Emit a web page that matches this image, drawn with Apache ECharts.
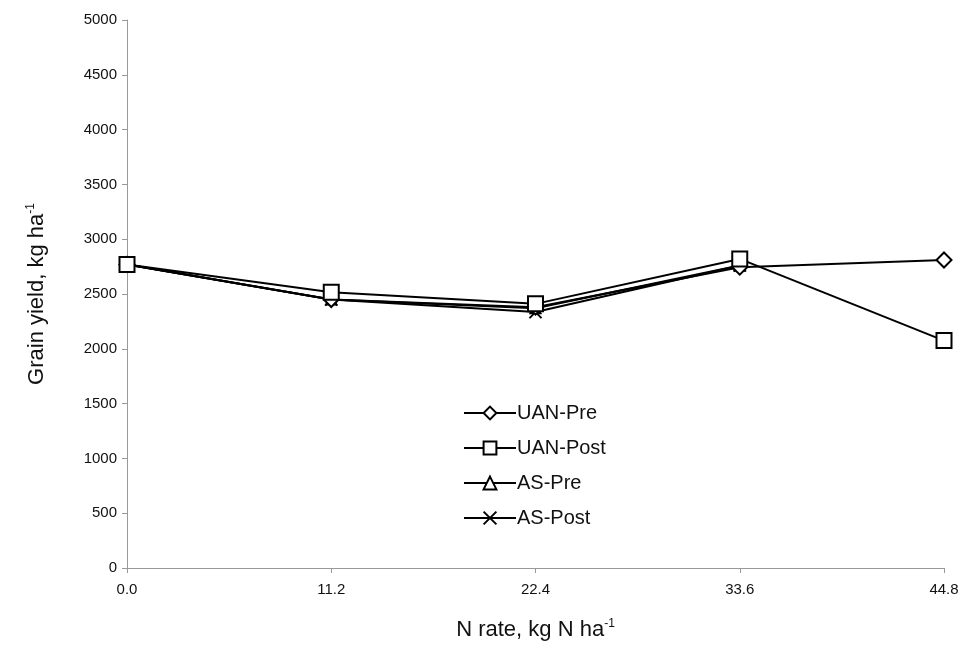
<!DOCTYPE html>
<html>
<head>
<meta charset="utf-8">
<script src="https://cdn.jsdelivr.net/npm/echarts@6/dist/echarts.min.js"></script>
<style>html,body{margin:0;padding:0;background:#fff}#c{width:968px;height:655px}</style>
</head>
<body>
<div id="c"></div>
<script>
const categories = ['0.0', '11.2', '22.4', '33.6', '44.8'];
const uanPre  = [2770, 2450, 2380, 2745, 2810];
const uanPost = [2770, 2515, 2410, 2820, 2075];
const asPre   = [2770, 2450, 2370, 2760, null];
const asPost  = [2770, 2450, 2335, 2760, null];
const yTicks = [0, 500, 1000, 1500, 2000, 2500, 3000, 3500, 4000, 4500, 5000];

const chart = echarts.init(document.getElementById('c'));
const font = 'Liberation Sans, Arial, sans-serif';
function ser(name, data, symbol, size, z) {
  return {
    name, type: 'line', data, symbol, symbolSize: size, z,
    showAllSymbol: true, connectNulls: false,
    lineStyle: { color: '#000', width: 2 },
    itemStyle: { color: '#fff', borderColor: '#000', borderWidth: 2 },
    emphasis: { disabled: true }
  };
}
chart.setOption({
  animation: false,
  backgroundColor: '#fff',
  grid: { left: 127, right: 24, top: 20, bottom: 87 },
  legend: {
    orient: 'vertical', left: 458, top: 398, itemWidth: 52, itemHeight: 16, itemGap: 15,
    textStyle: { fontFamily: font, fontSize: 20, color: '#111', padding: [0,0,0,-4] },
    data: ['UAN-Pre', 'UAN-Post', 'AS-Pre', 'AS-Post']
  },
  xAxis: {
    type: 'category', data: categories, boundaryGap: false,
    name: '{a|N rate, kg N ha}{s|-1}', nameLocation: 'middle', nameGap: 50,
    nameTextStyle: { rich: {
      a: { fontFamily: font, fontSize: 22, color: '#111' },
      s: { fontFamily: font, fontSize: 12, color: '#111', padding: [0,0,12,0] } } },
    axisLine: { lineStyle: { color: '#999', width: 1 } },
    axisTick: { show: true, length: 5, lineStyle: { color: '#999' } },
    axisLabel: { fontFamily: font, fontSize: 15, color: '#111', margin: 14 }
  },
  yAxis: {
    type: 'value', min: 0, max: 5000, interval: 500,
    name: '{a|Grain yield, kg ha}{s|-1}', nameLocation: 'middle', nameGap: 78, nameRotate: 90,
    nameTextStyle: { rich: {
      a: { fontFamily: font, fontSize: 22, color: '#111' },
      s: { fontFamily: font, fontSize: 12, color: '#111', padding: [0,0,12,0] } } },
    splitLine: { show: false },
    axisLine: { show: true, lineStyle: { color: '#999', width: 1 } },
    axisTick: { show: true, length: 5, lineStyle: { color: '#999' } },
    axisLabel: { fontFamily: font, fontSize: 15, color: '#111', margin: 10,
      formatter: v => yTicks.includes(v) ? String(v) : '' }
  },
  series: [
    ser('AS-Pre', asPre, 'triangle', 10, 2),
    ser('AS-Post', asPost, 'path://M0,0L10,10M10,0L0,10', 12, 3),
    ser('UAN-Pre', uanPre, 'diamond', 15, 4),
    ser('UAN-Post', uanPost, 'rect', 15, 5)
  ]
});
</script>
</body>
</html>
